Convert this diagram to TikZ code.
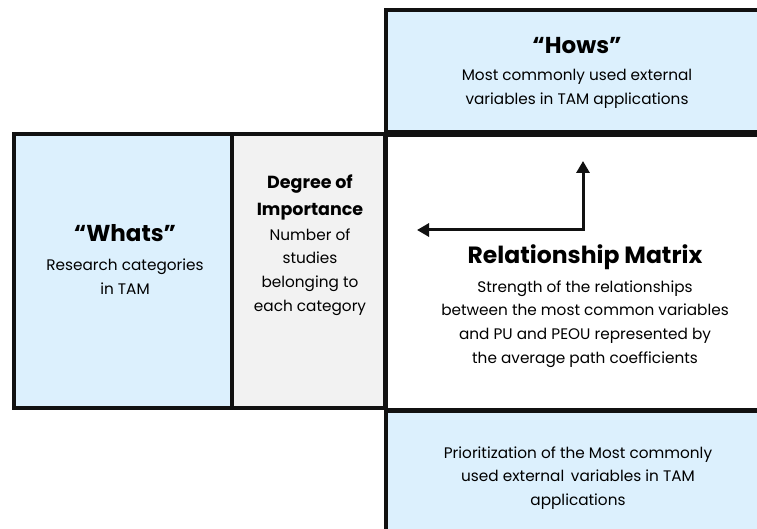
\documentclass[tikz,border=0pt]{standalone}
\usepackage{fontspec}
\setmainfont{Poppins}
\usetikzlibrary{arrows.meta}

\definecolor{panelblue}{HTML}{DCF0FD}
\definecolor{panelgray}{HTML}{F2F2F2}
\definecolor{edge}{HTML}{111111}

\tikzset{
  panel/.style={draw=edge, line width=4.5pt},
  title/.style={font=\fontsize{23}{26}\selectfont\bfseries, align=center},
  bigtitle/.style={font=\fontsize{23.5}{27}\selectfont\bfseries, align=center},
  body/.style={font=\fontsize{15.3}{23.8}\selectfont, align=center},
  link/.style={draw=edge, line width=3pt, {Triangle[length=12pt,width=13pt]}-{Triangle[length=12pt,width=13pt]}}
}

\begin{document}
\begin{tikzpicture}[x=1pt, y=-1pt]
\useasboundingbox (0,0) rectangle (757,529);
\clip (0,0) rectangle (757,529);

% Hows (top)
\draw[panel, fill=panelblue] (386,10) rectangle (800,132);
\node[title] (howsT) at (577,46) {“Hows”};
\node[body] (howsB) at (577,89) {Most commonly used external\\variables in TAM applications};

% Whats (left)
\draw[panel, fill=panelblue] (14,134) rectangle (232,408);
\node[title] (whatsT) at (125,233) {“Whats”};
\node[body] (whatsB) at (125,277) {Research categories\\in TAM};

% Degree of importance
\draw[panel, fill=panelgray] (232,134) rectangle (385,408);
\node[title, font=\fontsize{17.5}{27}\selectfont\bfseries] (degT) at (310,197) {Degree of\\Importance};
\node[body] (degB) at (310,272) {Number of\\studies\\belonging to\\each category};

% Relationship matrix (center)
\draw[panel, fill=white] (386,135) rectangle (800,410);
\node[bigtitle] (relT) at (585,257) {Relationship Matrix};
\node[body] (relB) at (585,324) {Strength of the relationships\\between the most common variables\\and PU and PEOU represented by\\the average path coefficients};

% Arrows
\coordinate (leftTip) at (417,230);
\coordinate (upTip) at (583,161);
\draw[link] (leftTip) -| (upTip);

% Prioritization (bottom)
\draw[panel, fill=panelblue] (386,411) rectangle (800,560);
\node[body] (prioB) at (578,478) {Prioritization of the Most commonly\\used external\, variables in TAM\\applications};

\end{tikzpicture}
\end{document}
